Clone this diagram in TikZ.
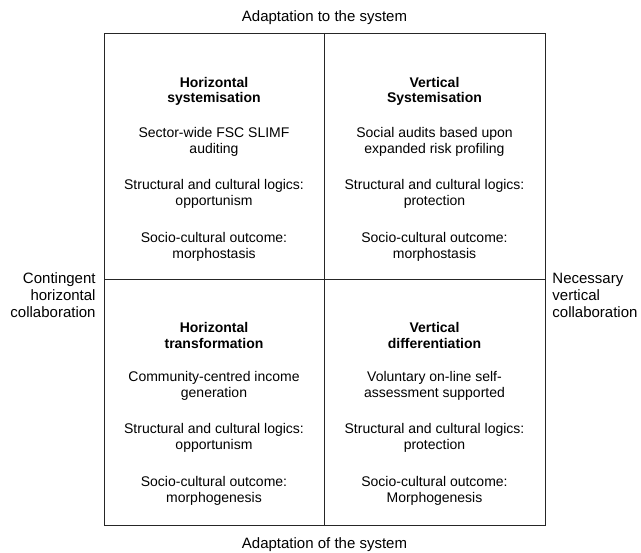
\documentclass[tikz,border=0pt]{standalone}
\usepackage{fontspec}
\setmainfont{Liberation Sans}
\usetikzlibrary{positioning}

\begin{document}
\begin{tikzpicture}[x=1pt,y=-1pt,line width=0.9pt,
  quadtitle/.style={align=center,inner sep=0pt,font=\fontsize{14}{15.5}\selectfont\bfseries},
  quadtext/.style={align=center,inner sep=0pt,font=\fontsize{14}{16.5}\selectfont},
  axislabel/.style={inner sep=0pt,font=\fontsize{15}{17}\selectfont}]
  \def\L{104}   % frame left
  \def\R{545}   % frame right
  \def\T{33}    % frame top
  \def\B{525}   % frame bottom
  \def\MX{324}  % vertical divider
  \def\MY{279}  % horizontal divider
  \def\CL{214}  % centre of left column
  \def\CR{434.5}% centre of right column
  \def\D{244}   % offset of lower row
  \useasboundingbox (0,0) rectangle (641,553);

  % ================= frame =================
  \draw[black!85] (\L,\T) rectangle (\R,\B);
  \draw[black!85] (\MX,\T) -- (\MX,\B);
  \draw[black!85] (\L,\MY) -- (\R,\MY);

  % ================= axis labels =================
  \node[axislabel] (top) at (324.5,18) {Adaptation to the system};
  \node[axislabel] (bottom) at (324.5,545) {Adaptation of the system};
  \node[axislabel,align=right,anchor=east] (left) at (96,295) {Contingent\\horizontal\\collaboration};
  \node[axislabel,align=left,anchor=west] (right) at (552,295) {Necessary\\vertical\\collaboration};

  % ================= horizontal systemisation =================
  \begin{scope}[shift={(\CL,0)}]
    \node[quadtitle] (hs-title) at (0,91.5) {Horizontal\\systemisation};
    \node[quadtext] (hs-case) at (0,142) {Sector-wide FSC SLIMF\\auditing};
    \node[quadtext] (hs-logic) at (0,194) {Structural and cultural logics:\\opportunism};
    \node[quadtext] (hs-outcome) at (0,247) {Socio-cultural outcome:\\morphostasis};
  \end{scope}

  % ================= vertical systemisation =================
  \begin{scope}[shift={(\CR,0)}]
    \node[quadtitle] (vs-title) at (0,91.5) {Vertical\\Systemisation};
    \node[quadtext] (vs-case) at (0,142) {Social audits based upon\\expanded risk profiling};
    \node[quadtext] (vs-logic) at (0,194) {Structural and cultural logics:\\protection};
    \node[quadtext] (vs-outcome) at (0,247) {Socio-cultural outcome:\\morphostasis};
  \end{scope}

  % ================= horizontal transformation =================
  \begin{scope}[shift={(\CL,\D)}]
    \node[quadtitle] (ht-title) at (0,91.5) {Horizontal\\transformation};
    \node[quadtext] (ht-case) at (0,142) {Community-centred income\\generation};
    \node[quadtext] (ht-logic) at (0,194) {Structural and cultural logics:\\opportunism};
    \node[quadtext] (ht-outcome) at (0,247) {Socio-cultural outcome:\\morphogenesis};
  \end{scope}

  % ================= vertical differentiation =================
  \begin{scope}[shift={(\CR,\D)}]
    \node[quadtitle] (vd-title) at (0,91.5) {Vertical\\differentiation};
    \node[quadtext] (vd-case) at (0,142) {Voluntary on-line self-\\assessment supported};
    \node[quadtext] (vd-logic) at (0,194) {Structural and cultural logics:\\protection};
    \node[quadtext] (vd-outcome) at (0,247) {Socio-cultural outcome:\\Morphogenesis};
  \end{scope}
\end{tikzpicture}
\end{document}
